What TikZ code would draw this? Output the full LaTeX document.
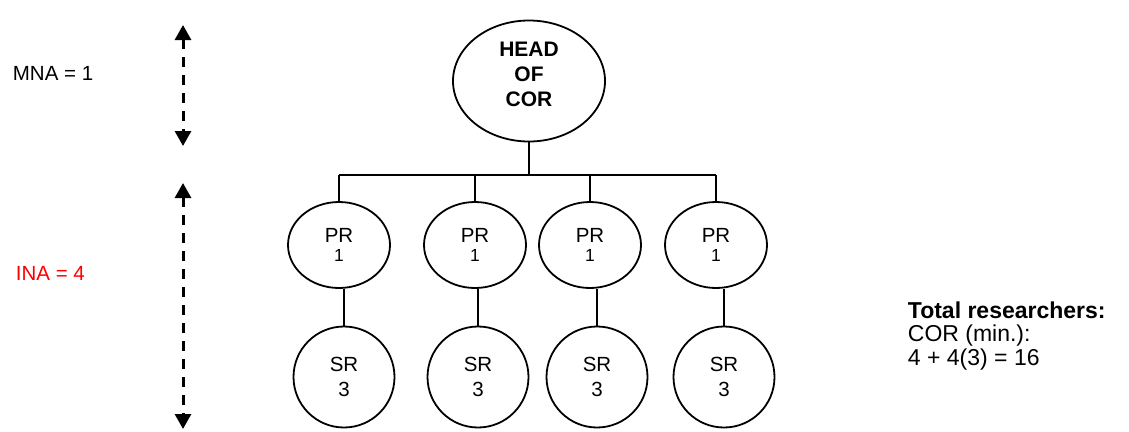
\documentclass[tikz,border=0pt]{standalone}
\usepackage{fontspec}
\setmainfont{Liberation Sans}
\usetikzlibrary{arrows.meta}
\usetikzlibrary{shapes.geometric}

\begin{document}
\begin{tikzpicture}[x=1pt,y=-1pt,line width=1.8pt,
% dashed level markers with solid heads at both ends
levelarrow/.style={dash pattern=on 10pt off 8pt,line width=3pt,
    {Triangle[width=16pt,length=15pt]}-{Triangle[width=16pt,length=15pt]}},
prnode/.style={draw,ellipse,inner sep=0pt,minimum width=102pt,minimum height=86pt,
    align=center,font=\fontsize{20.5}{19}\selectfont},
srnode/.style={draw,circle,inner sep=0pt,minimum size=101pt,
    align=center,font=\fontsize{20.5}{25}\selectfont}]

\useasboundingbox (0,0) rectangle (1129,431);

\node[draw,ellipse,minimum width=152pt,minimum height=121pt,
  label={[font=\bfseries\fontsize{21}{25}\selectfont,align=center,yshift=7pt]center:HEAD\\OF\\COR}]
  (head) at (529,81) {};
\coordinate (bus) at (529,175);

\foreach \n/\px/\sx in {1/339/344,2/475/478,3/590/597,4/716/724} {
  \node[prnode] (pr\n) at (\px,245) {PR\\{\fontsize{17.5}{19}\selectfont 1}};
  \node[srnode] (sr\n) at (\sx,377) {SR\\3};
  \draw (pr\n.north) -- (pr\n.north |- bus);
  \draw (sr\n.north) -- (sr\n.north |- pr\n.south);
}
\draw (head.south) -- (head.south |- bus);
\draw (pr1.north |- bus) -- (pr4.north |- bus);

% levels
\coordinate (mnatop) at (183,25);
\coordinate (mnabot) at (183,146);
\coordinate (inatop) at (183,183);
\coordinate (inabot) at (183,429);
\draw[levelarrow] (mnatop) -- (mnabot);
\draw[levelarrow] (inatop) -- (inabot);

\node[anchor=west,inner sep=0pt,font=\fontsize{20.5}{24}\selectfont] (mna) at (12,73) {MNA = 1};
\node[anchor=west,inner sep=0pt,red,font=\fontsize{20.5}{24}\selectfont] (ina) at (15,273) {INA = 4};
\node[anchor=west,inner sep=0pt,align=left,font=\fontsize{23}{23.7}\selectfont] (total) at (907,336)
  {\textbf{Total researchers:}\\COR (min.):\\4 + 4(3) = 16};
\end{tikzpicture}
\end{document}
